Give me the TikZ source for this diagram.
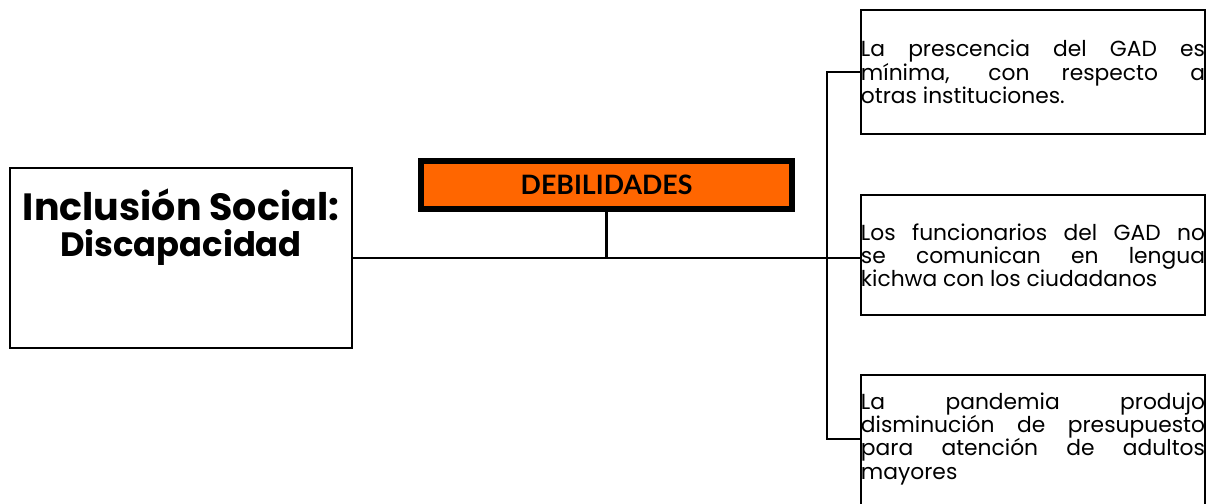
\documentclass[tikz,border=0pt]{standalone}
\usepackage{fontspec}
\setmainfont{Poppins}
\newfontfamily\latofont{Lato}
\usetikzlibrary{positioning}

\definecolor{debilorange}{RGB}{255,102,0}

\tikzset{
    item/.style={draw, line width=1.5pt, inner xsep=0pt, text width=8.6cm,
        minimum height=3.1cm, align=justify,
        font=\fontsize{15.5}{16.5}\selectfont},
    link/.style={line width=1.5pt},
}

\begin{document}
\begin{tikzpicture}[x=0.025cm, y=-0.025cm]
    \useasboundingbox (0,0) rectangle (1211,504);

    % Draw the main topic box
    \node[draw, line width=1.5pt, minimum width=8.55cm, minimum height=4.5cm,
          align=center, font=\bfseries] (root) at (181,258)
        {\fontsize{27}{30}\selectfont Inclusión Social:\\[5pt]
         \fontsize{24}{26}\selectfont Discapacidad\rule[-1.75cm]{0pt}{0pt}};

    % Draw the heading box
    \node[draw, line width=4.5pt, fill=debilorange, minimum width=9.275cm,
          minimum height=1.2cm, font=\latofont\bfseries\fontsize{19}{22}\selectfont]
        (debil) at (606.5,185) {DEBILIDADES};

    % Draw the three items on the right
    \node[item] (presencia) at (1033,72)
        {La prescencia del GAD es\linebreak mínima, con respecto a\linebreak otras instituciones.};
    \node[item, minimum height=3cm] (lengua) at (1033,255)
        {Los funcionarios del GAD no\linebreak se comunican en lengua\linebreak kichwa con los ciudadanos};
    \node[item, minimum height=4.15cm, anchor=north] (pandemia) at (1033,374)
        {La pandemia produjo\linebreak disminución de presupuesto\linebreak para atención de adultos\linebreak mayores\rule[-1.1cm]{0pt}{0pt}};

    % Draw the connectors
    \coordinate (hub) at (827,258);
    \coordinate (low) at (827,439);
    \draw[link] (root.east |- hub) -- (hub) -- (hub -| lengua.west);
    \draw[link] (debil.south) -- (debil.south |- hub);
    \draw[link] (presencia.west) -| (hub) -- (low) -- (low -| pandemia.west);
\end{tikzpicture}
\end{document}
